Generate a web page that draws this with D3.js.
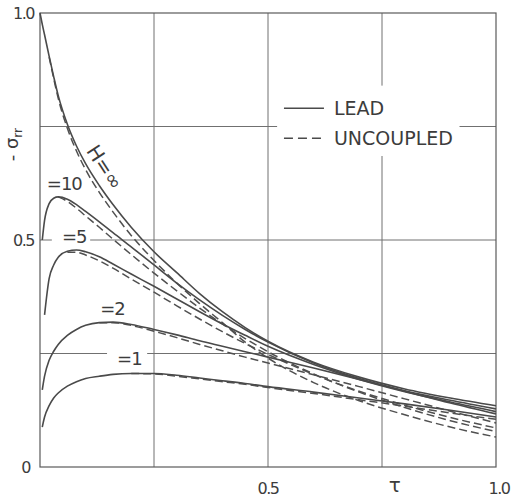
<!DOCTYPE html>
<html>
<head>
<meta charset="utf-8">
<script src="https://cdn.jsdelivr.net/npm/d3@7"></script>
<style>
  body { margin: 0; background: #fff; }
  text { font-family: 'DejaVu Sans', sans-serif; fill: #3c3c3c; }
</style>
</head>
<body>
<div id="chart"></div>
<script>
// time values shared by every curve
const tau = [0, 0.005, 0.01, 0.02, 0.03, 0.04, 0.06, 0.08, 0.1, 0.13, 0.16, 0.2, 0.25, 0.3, 0.35, 0.4, 0.45, 0.5, 0.6, 0.7, 0.8, 0.9, 1.0];

// LEAD (coupled) curves, -sigma_rr
const leadInf = [1.0, 0.975, 0.952, 0.905, 0.86, 0.818, 0.755, 0.707, 0.668, 0.62, 0.578, 0.528, 0.474, 0.428, 0.382, 0.342, 0.307, 0.277, 0.231, 0.198, 0.172, 0.152, 0.135];
const lead10 = [null, 0.50, 0.543, 0.58, 0.592, 0.595, 0.59, 0.578, 0.563, 0.54, 0.516, 0.485, 0.445, 0.405, 0.368, 0.334, 0.303, 0.275, 0.229, 0.195, 0.168, 0.147, 0.128];
const lead5 = [null, null, 0.335, 0.415, 0.445, 0.462, 0.475, 0.478, 0.474, 0.463, 0.447, 0.425, 0.398, 0.37, 0.342, 0.315, 0.29, 0.266, 0.226, 0.193, 0.166, 0.143, 0.122];
const lead2 = [null, 0.17, 0.20, 0.235, 0.255, 0.27, 0.29, 0.303, 0.312, 0.318, 0.319, 0.314, 0.303, 0.291, 0.278, 0.266, 0.254, 0.242, 0.218, 0.193, 0.167, 0.141, 0.117];
const lead1 = [null, 0.088, 0.11, 0.135, 0.152, 0.163, 0.178, 0.188, 0.195, 0.20, 0.204, 0.206, 0.206, 0.202, 0.196, 0.19, 0.184, 0.177, 0.165, 0.152, 0.139, 0.125, 0.11];

// UNCOUPLED curves
const uncInf = [null, null, null, 0.903, 0.856, 0.812, 0.746, 0.696, 0.655, 0.605, 0.562, 0.51, 0.455, 0.405, 0.36, 0.318, 0.275, 0.24, 0.186, 0.146, 0.115, 0.088, 0.066];
const unc10 = [null, null, null, null, null, 0.595, 0.585, 0.57, 0.553, 0.528, 0.502, 0.468, 0.427, 0.388, 0.35, 0.315, 0.283, 0.254, 0.205, 0.165, 0.131, 0.102, 0.078];
const unc5 = [null, null, null, null, null, null, 0.473, 0.473, 0.467, 0.454, 0.438, 0.414, 0.385, 0.355, 0.326, 0.298, 0.272, 0.248, 0.204, 0.167, 0.136, 0.109, 0.086];
const unc2 = [null, null, null, null, null, null, null, null, null, 0.318, 0.318, 0.312, 0.299, 0.285, 0.27, 0.256, 0.242, 0.229, 0.203, 0.177, 0.15, 0.123, 0.097];
const unc1 = [null, null, null, null, null, null, null, null, null, null, null, 0.206, 0.205, 0.20, 0.194, 0.188, 0.182, 0.175, 0.162, 0.148, 0.134, 0.119, 0.105];

const xTicks = [0.5, 1.0];
const xTickLabels = ['0.5', '1.0'];
const yTicks = [0, 0.5, 1.0];
const yTickLabels = ['0', '0.5', '1.0'];
const gridValues = [0.25, 0.5, 0.75];
const legendItems = ['LEAD', 'UNCOUPLED'];

const curveLabels = [
  { text: '=10', t: 0.015, v: 0.61 },
  { text: '=5', t: 0.048, v: 0.493 },
  { text: '=2', t: 0.132, v: 0.335 },
  { text: '=1', t: 0.169, v: 0.225 }
];

function drawChart() {
  const margin = { top: 13, right: 16, bottom: 32, left: 40 };
  const width = 512 - margin.left - margin.right;
  const height = 499 - margin.top - margin.bottom;

  const x = d3.scaleLinear().domain([0, 1]).range([0, width]);
  const y = d3.scaleLinear().domain([0, 1]).range([height, 0]);

  const svg = d3.select('#chart').append('svg')
    .attr('width', 512)
    .attr('height', 499)
    .append('g')
    .attr('transform', `translate(${margin.left},${margin.top})`);

  // grid, with the gaps left for the labels and the legend
  const gaps = {
    h: { 0.75: [0.52, 0.92], 0.5: [0.026, 0.11], 0.25: [0.147, 0.235] },
    v: { 0.75: [0.685, 0.84] }
  };
  const grid = svg.append('g').attr('stroke', '#707070').attr('stroke-width', 1);
  gridValues.forEach(g => {
    const hg = gaps.h[g];
    const hSegs = hg ? [[0, hg[0]], [hg[1], 1]] : [[0, 1]];
    hSegs.forEach(s => grid.append('line')
      .attr('x1', x(s[0])).attr('x2', x(s[1]))
      .attr('y1', y(g)).attr('y2', y(g)));
    const vg = gaps.v[g];
    const vSegs = vg ? [[0, vg[0]], [vg[1], 1]] : [[0, 1]];
    vSegs.forEach(s => grid.append('line')
      .attr('x1', x(g)).attr('x2', x(g))
      .attr('y1', y(s[0])).attr('y2', y(s[1])));
  });

  // frame
  svg.append('rect')
    .attr('width', width).attr('height', height)
    .attr('fill', 'none').attr('stroke', '#5a5a5a').attr('stroke-width', 1.2);

  // X Axis labels
  svg.append('g').selectAll('text')
    .data(xTicks)
    .enter().append('text')
    .attr('x', d => x(d) + (d === 1 ? 3 : 0))
    .attr('y', height + 27)
    .attr('text-anchor', 'middle')
    .attr('font-size', 16)
    .attr('letter-spacing', -1.5)
    .text((d, i) => xTickLabels[i]);

  svg.append('text')
    .attr('x', x(0.778))
    .attr('y', height + 25)
    .attr('text-anchor', 'middle')
    .attr('font-size', 20)
    .attr('font-family', 'DejaVu Serif, serif')
    .text('τ');

  // Y Axis labels
  svg.append('g').selectAll('text')
    .data(yTicks)
    .enter().append('text')
    .attr('x', d => d === 0 ? -10 : -6)
    .attr('y', d => y(d) + 6)
    .attr('text-anchor', 'end')
    .attr('font-size', 16)
    .attr('letter-spacing', -1.5)
    .text((d, i) => yTickLabels[i]);

  const yLabel = svg.append('text')
    .attr('transform', `translate(${-22},${y(0.71)}) rotate(-90)`)
    .attr('text-anchor', 'middle')
    .attr('font-size', 18);
  yLabel.append('tspan').text('- σ');
  yLabel.append('tspan').attr('font-size', 12).attr('dy', 4).text('rr');

  // curves
  const line = d3.line()
    .defined(d => d[1] != null)
    .x(d => x(d[0]))
    .y(d => y(d[1]))
    .curve(d3.curveMonotoneX);

  const dashed = [uncInf, unc10, unc5, unc2, unc1];
  const solid = [leadInf, lead10, lead5, lead2, lead1];

  svg.append('g').selectAll('path')
    .data(dashed)
    .enter().append('path')
    .attr('fill', 'none')
    .attr('stroke', '#505050')
    .attr('stroke-width', 1.5)
    .attr('stroke-dasharray', '8,4')
    .attr('d', vals => line(tau.map((t, i) => [t, vals[i]])));

  svg.append('g').selectAll('path')
    .data(solid)
    .enter().append('path')
    .attr('fill', 'none')
    .attr('stroke', '#4a4a4a')
    .attr('stroke-width', 1.6)
    .attr('d', vals => line(tau.map((t, i) => [t, vals[i]])));

  // curve labels
  svg.append('text')
    .attr('transform', `translate(${x(0.129)},${y(0.652)}) rotate(57)`)
    .attr('text-anchor', 'middle')
    .attr('font-size', 20)
    .text('H=∞');

  svg.append('g').selectAll('text')
    .data(curveLabels)
    .enter().append('text')
    .attr('x', d => x(d.t))
    .attr('y', d => y(d.v))
    .attr('font-size', 18)
    .attr('letter-spacing', -1)
    .text(d => d.text);

  // Legend
  const legend = svg.append('g').attr('transform', `translate(${x(0.535)},${y(0.79)})`);
  legendItems.forEach((name, i) => {
    legend.append('line')
      .attr('x1', 0).attr('x2', 40)
      .attr('y1', i * 30).attr('y2', i * 30)
      .attr('stroke', '#4a4a4a')
      .attr('stroke-width', 1.5)
      .attr('stroke-dasharray', i === 1 ? '9,5' : null);
    legend.append('text')
      .attr('x', 50)
      .attr('y', i * 30 + 7)
      .attr('font-size', 19)
      .text(name);
  });
}

drawChart();
</script>
</body>
</html>
